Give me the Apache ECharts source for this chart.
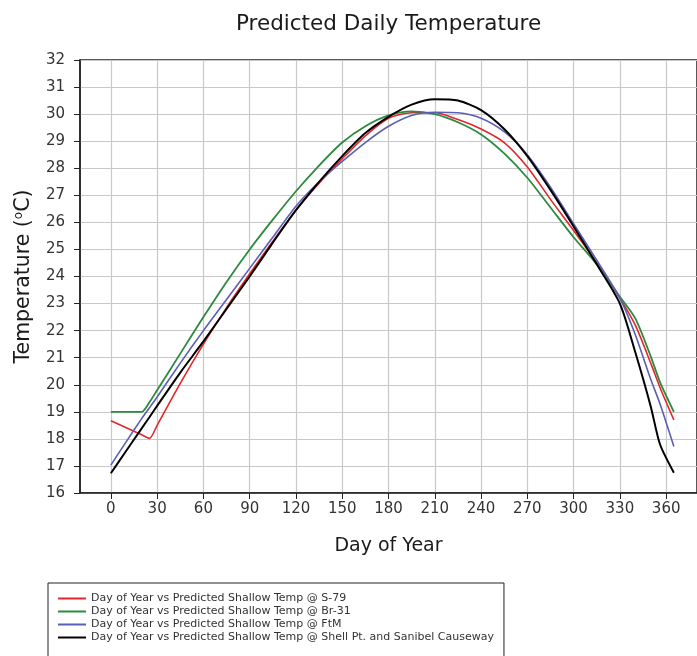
<!DOCTYPE html>
<html>
<head>
<meta charset="utf-8">
<script src="https://cdn.jsdelivr.net/npm/echarts@6/dist/echarts.min.js"></script>
<style>
html,body{margin:0;padding:0;background:#fff;}
#chart{width:697px;height:656px;}
</style>
</head>
<body>
<div id="chart"></div>
<script>
const days = [0, 10, 20, 25, 30, 45, 60, 75, 90, 105, 120, 135, 150, 165, 180, 195, 210, 225, 240, 255, 270, 285, 300, 315, 330, 340, 350, 356, 365];
const tempS79 = [18.67, 18.41, 18.15, 18.02, 18.5, 20.05, 21.5, 22.85, 24.1, 25.3, 26.45, 27.45, 28.35, 29.2, 29.85, 30.05, 30.05, 29.8, 29.45, 28.95, 28.05, 26.85, 25.7, 24.5, 23.2, 22.2, 20.8, 19.9, 18.7];
const tempBr31 = [19.0, 19.0, 19.0, 19.35, 19.8, 21.15, 22.5, 23.8, 25.0, 26.1, 27.15, 28.1, 28.95, 29.55, 29.95, 30.1, 30.0, 29.7, 29.25, 28.55, 27.65, 26.55, 25.45, 24.45, 23.25, 22.45, 21.05, 20.1, 19.0];
const tempFtM = [17.03, 17.9, 18.75, 19.15, 19.55, 20.8, 22.0, 23.15, 24.3, 25.45, 26.6, 27.5, 28.25, 28.95, 29.55, 29.95, 30.07, 30.05, 29.85, 29.35, 28.5, 27.3, 25.95, 24.6, 23.2, 21.85, 20.2, 19.3, 17.72];
const tempShell = [16.73, 17.56, 18.39, 18.8, 19.22, 20.45, 21.6, 22.8, 24.0, 25.25, 26.45, 27.5, 28.45, 29.3, 29.9, 30.35, 30.55, 30.5, 30.15, 29.45, 28.45, 27.2, 25.85, 24.45, 23.0, 21.2, 19.2, 17.8, 16.75];
const xTicks = [0, 30, 60, 90, 120, 150, 180, 210, 240, 270, 300, 330, 360];
const seriesNames = [
  'Day of Year vs Predicted Shallow Temp @ S-79',
  'Day of Year vs Predicted Shallow Temp @ Br-31',
  'Day of Year vs Predicted Shallow Temp @ FtM',
  'Day of Year vs Predicted Shallow Temp @ Shell Pt. and Sanibel Causeway'
];
const seriesTemps = [tempS79, tempBr31, tempFtM, tempShell];
const seriesColors = ['#e3262b', '#2b8a3e', '#5b5fb3', '#000000'];
const seriesWidths = [1.6, 1.8, 1.6, 2];

const FONT = "'DejaVu Sans', Verdana, sans-serif";
const chart = echarts.init(document.getElementById('chart'), null, {renderer: 'canvas'});
const option = {
  backgroundColor: '#ffffff',
  animation: false,
  textStyle: {fontFamily: FONT},
  title: {
    text: 'Predicted Daily Temperature',
    left: 231,
    top: 8,
    textStyle: {fontFamily: FONT, fontSize: 21.5, fontWeight: 'normal', color: '#1a1a1a'}
  },
  grid: {
    left: 80, top: 60, width: 618, height: 433,
    show: true, borderColor: '#222', borderWidth: 1.5, backgroundColor: 'transparent',
    containLabel: false
  },
  legend: {
    orient: 'vertical',
    left: 48, top: 583,
    height: 120,
    padding: [9, 10, 30, 9],
    borderColor: '#222', borderWidth: 1,
    itemWidth: 28, itemHeight: 10, itemGap: 0,
    itemStyle: {opacity: 0},
    textStyle: {fontFamily: FONT, fontSize: 11, color: '#333', lineHeight: 13},
    data: seriesNames
  },
  xAxis: {
    type: 'value',
    min: -20, max: 380,
    name: 'Day of Year',
    nameLocation: 'middle',
    nameGap: 44,
    nameTextStyle: {fontFamily: FONT, fontSize: 19, color: '#1a1a1a'},
    axisLine: {show: true, onZero: false, lineStyle: {color: '#222', width: 1.5}},
    axisTick: {show: true, length: 6, customValues: xTicks, lineStyle: {color: '#222'}},
    axisLabel: {customValues: xTicks, margin: 9, fontFamily: FONT, fontSize: 15, color: '#333'},
    splitLine: {show: true, lineStyle: {color: '#c8c8c8', width: 1.2}}
  },
  yAxis: {
    type: 'value',
    min: 16, max: 32, interval: 1,
    name: 'Temperature ({sup|o}C)',
    nameLocation: 'middle',
    nameRotate: 90,
    nameGap: 45,
    nameTextStyle: {
      fontFamily: FONT, fontSize: 20.5, color: '#1a1a1a',
      rich: {sup: {fontFamily: FONT, fontSize: 12, color: '#1a1a1a', verticalAlign: 'top', padding: [0, 0, 10, 0]}}
    },
    axisLine: {show: true, onZero: false, lineStyle: {color: '#222', width: 1.5}},
    axisTick: {show: true, length: 6, lineStyle: {color: '#222'}},
    axisLabel: {margin: 15, fontFamily: FONT, fontSize: 15, color: '#333'},
    splitLine: {show: true, lineStyle: {color: '#c8c8c8', width: 1.2}}
  },
  series: seriesNames.map((name, i) => ({
    name: name,
    type: 'line',
    symbol: 'none',
    smooth: 0.25,
    z: 3 + i,
    lineStyle: {color: seriesColors[i], width: seriesWidths[i]},
    itemStyle: {color: seriesColors[i]},
    data: days.map((d, j) => [d, seriesTemps[i][j]])
  }))
};
chart.setOption(option);
</script>
</body>
</html>
